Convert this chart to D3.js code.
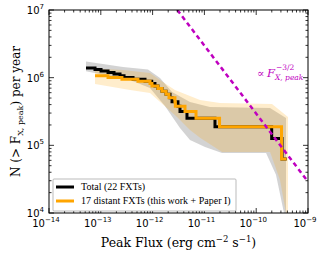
<!DOCTYPE html>
<html>
<head>
<meta charset="utf-8">
<script src="https://cdn.jsdelivr.net/npm/d3@7"></script>
<style>
  body { margin: 0; background: #fff; }
  svg { display: block; }
</style>
</head>
<body>
<svg width="325" height="260"></svg>
<script>
// step edges (peak flux, erg/cm2/s) and cumulative rate levels (per year)
const totalEdges = [5.18e-14, 7.73e-14, 1.01e-13, 1.38e-13, 1.80e-13, 2.35e-13, 2.81e-13, 4.19e-13,
  7.13e-13, 9.62e-13, 1.11e-12, 1.27e-12, 1.52e-12, 1.82e-12, 2.17e-12, 2.37e-12, 3.09e-12,
  3.38e-12, 4.61e-12, 1.60e-11, 1.99e-10, 3.15e-10, 3.88e-10];
const totalLevels = [1.386e6, 1.323e6, 1.26e6, 1.197e6, 1.134e6, 1.071e6, 1.008e6, 9.45e5, 8.82e5,
  8.19e5, 7.56e5, 6.93e5, 6.3e5, 5.67e5, 5.04e5, 4.41e5, 3.78e5, 3.15e5, 2.52e5, 1.89e5, 1.26e5, 6.3e4];

const distEdges = [7.73e-14, 1.38e-13, 2.56e-13, 5.22e-13, 8.91e-13, 9.73e-13, 1.27e-12, 1.52e-12,
  1.82e-12, 2.07e-12, 2.70e-12, 2.75e-12, 4.22e-12, 6.89e-12, 1.96e-11, 3.08e-10, 3.09e-10, 3.86e-10];
const distLevels = [1.071e6, 1.008e6, 9.45e5, 8.82e5, 8.19e5, 7.56e5, 6.93e5, 6.3e5, 5.67e5, 5.04e5,
  4.41e5, 3.78e5, 3.15e5, 2.52e5, 1.89e5, 1.26e5, 6.3e4];

// uncertainty bands [flux, N]
const totalBandUpper = [[5.18e-14, 1.73e6], [2.69e-13, 1.44e6], [8.15e-13, 1.32e6], [1.39e-12, 9.9e5],
  [2.37e-12, 6.15e5], [5.27e-12, 4.38e5], [1.28e-11, 3.69e5], [1.85e-10, 3.56e5], [3.76e-10, 2.54e5],
  [3.76e-10, 1.0e4]];
const totalBandLower = [[3.44e-10, 1.0e4], [2.41e-10, 3.66e4], [1.55e-10, 7.73e4], [2.19e-11, 7.73e4],
  [1.03e-11, 9.47e4], [5.27e-12, 1.20e5], [3.38e-12, 1.81e5], [1.73e-12, 3.82e5], [8.91e-13, 7.05e5],
  [3.67e-13, 9.25e5], [5.18e-14, 1.24e6]];

const distBandUpper = [[7.73e-14, 1.37e6], [2.69e-13, 1.30e6], [8.91e-13, 1.17e6], [1.39e-12, 9.25e5],
  [2.70e-12, 6.58e5], [8.22e-12, 4.69e5], [2.0e-11, 4.23e5], [2.02e-10, 4.08e5], [4.11e-10, 2.63e5],
  [4.11e-10, 1.0e4]];
const distBandLower = [[3.76e-10, 1.0e4], [2.88e-10, 3.08e4], [1.85e-10, 8.0e4], [2.19e-11, 8.0e4],
  [8.22e-12, 1.29e5], [5.27e-12, 1.69e5], [2.96e-12, 2.63e5], [8.91e-13, 5.94e5], [3.67e-13, 6.58e5],
  [7.73e-14, 8.07e5]];

// reference power law line
const powerLaw = [[3.0e-12, 1e7], [1e-9, 2.9e4]];

const xMajor = [-14, -13, -12, -11, -10, -9];
const yMajor = [4, 5, 6, 7];

const svg = d3.select("svg");
const L = 49, R = 308, T = 10, B = 213;

const x = d3.scaleLog().domain([1e-14, 1e-9]).range([L, R]);
const y = d3.scaleLog().domain([1e4, 1e7]).range([B, T]);

svg.append("defs").append("clipPath").attr("id", "clip")
  .append("rect").attr("x", L).attr("y", T).attr("width", R - L).attr("height", B - T);

const plot = svg.append("g").attr("clip-path", "url(#clip)");

const area = d3.line().x(d => x(d[0])).y(d => y(d[1]));

plot.append("path")
  .attr("d", area(totalBandUpper.concat(totalBandLower)) + "Z")
  .attr("fill", "#808080").attr("fill-opacity", 0.35);
plot.append("path")
  .attr("d", area(distBandUpper.concat(distBandLower)) + "Z")
  .attr("fill", "#ffa500").attr("fill-opacity", 0.2);

function stepPts(edges, levels) {
  const pts = levels.map((v, i) => [edges[i], v]);
  pts.push([edges[edges.length - 1], levels[levels.length - 1]]);
  return pts;
}
const step = d3.line().x(d => x(d[0])).y(d => y(d[1])).curve(d3.curveStepAfter);

plot.append("path").attr("d", step(stepPts(totalEdges, totalLevels)))
  .attr("fill", "none").attr("stroke", "#000").attr("stroke-width", 3);
plot.append("path").attr("d", step(stepPts(distEdges, distLevels)))
  .attr("fill", "none").attr("stroke", "#ffa500").attr("stroke-width", 3);

plot.append("path").attr("d", area(powerLaw))
  .attr("fill", "none").attr("stroke", "#bf00bf").attr("stroke-width", 2.5)
  .attr("stroke-dasharray", "4.5,3.5");

// ticks
const xMinor = [], yMinor = [];
xMajor.slice(0, -1).forEach(e => { for (let k = 2; k < 10; k++) xMinor.push(k * Math.pow(10, e)); });
yMajor.slice(0, -1).forEach(e => { for (let k = 2; k < 10; k++) yMinor.push(k * Math.pow(10, e)); });

const ax = svg.append("g").attr("stroke", "#000").attr("stroke-width", 0.8);
xMajor.forEach(e => {
  const px = x(Math.pow(10, e));
  ax.append("line").attr("x1", px).attr("x2", px).attr("y1", B).attr("y2", B - 5);
  ax.append("line").attr("x1", px).attr("x2", px).attr("y1", T).attr("y2", T + 5);
});
xMinor.forEach(v => {
  const px = x(v);
  ax.append("line").attr("x1", px).attr("x2", px).attr("y1", B).attr("y2", B - 2.5);
  ax.append("line").attr("x1", px).attr("x2", px).attr("y1", T).attr("y2", T + 2.5);
});
yMajor.forEach(e => {
  const py = y(Math.pow(10, e));
  ax.append("line").attr("x1", L).attr("x2", L + 5).attr("y1", py).attr("y2", py);
  ax.append("line").attr("x1", R).attr("x2", R - 5).attr("y1", py).attr("y2", py);
});
yMinor.forEach(v => {
  const py = y(v);
  ax.append("line").attr("x1", L).attr("x2", L + 2.5).attr("y1", py).attr("y2", py);
  ax.append("line").attr("x1", R).attr("x2", R - 2.5).attr("y1", py).attr("y2", py);
});

svg.append("rect").attr("x", L).attr("y", T).attr("width", R - L).attr("height", B - T)
  .attr("fill", "none").attr("stroke", "#000").attr("stroke-width", 1);

// tick labels
const tickFont = "DejaVu Sans, sans-serif";
xMajor.forEach(e => {
  const t = svg.append("text").attr("x", x(Math.pow(10, e)) - 3).attr("y", 227)
    .attr("text-anchor", "middle").attr("font-family", tickFont).attr("font-size", 10);
  t.append("tspan").text("10");
  t.append("tspan").attr("dy", -5).attr("font-size", 7).text(String(e).replace("-", "\u2212"));
});
yMajor.forEach(e => {
  const t = svg.append("text").attr("x", 44).attr("y", y(Math.pow(10, e)) + 4)
    .attr("text-anchor", "end").attr("font-family", tickFont).attr("font-size", 10);
  t.append("tspan").text("10");
  t.append("tspan").attr("dy", -5).attr("font-size", 7).text(String(e));
});

// axis labels
const serif = "DejaVu Serif, serif";
const xl = svg.append("text").attr("x", (L + R) / 2).attr("y", 247).attr("text-anchor", "middle")
  .attr("font-family", serif).attr("font-size", 12.5);
xl.append("tspan").text("Peak Flux (erg cm");
xl.append("tspan").attr("dy", -5).attr("font-size", 8.5).text("\u22122");
xl.append("tspan").attr("dy", 5).text(" s");
xl.append("tspan").attr("dy", -5).attr("font-size", 8.5).text("\u22121");
xl.append("tspan").attr("dy", 5).text(")");

const yl = svg.append("text").attr("transform", `translate(20,${(T + B) / 2}) rotate(-90)`)
  .attr("text-anchor", "middle").attr("font-family", serif).attr("font-size", 12);
yl.append("tspan").text("N (> F");
yl.append("tspan").attr("dy", 3).attr("font-size", 8).text("X, peak");
yl.append("tspan").attr("dy", -3).text(") per year");

// power law annotation
const ann = svg.append("g").attr("fill", "#bf00bf").attr("font-family", serif);
ann.append("text").attr("x", 257).attr("y", 77).attr("font-size", 11).text("\u221D");
ann.append("text").attr("x", 267).attr("y", 77).attr("font-size", 11.5).attr("font-style", "italic").text("F");
ann.append("text").attr("x", 276).attr("y", 70).attr("font-size", 7.5).text("\u22123/2");
ann.append("text").attr("x", 275).attr("y", 80).attr("font-size", 7.5).attr("font-style", "italic").text("X, peak");

// legend
const lg = svg.append("g");
lg.append("rect").attr("x", 53).attr("y", 179).attr("width", 183).attr("height", 32)
  .attr("fill", "#fff").attr("stroke", "#aaa").attr("stroke-width", 0.8).attr("rx", 1);
const legendItems = [["Total (22 FXTs)", "#000"], ["17 distant FXTs (this work + Paper I)", "#ffa500"]];
legendItems.forEach((d, i) => {
  const yy = 187 + i * 14;
  lg.append("line").attr("x1", 56).attr("x2", 74).attr("y1", yy).attr("y2", yy)
    .attr("stroke", d[1]).attr("stroke-width", 3);
  lg.append("text").attr("x", 81).attr("y", yy + 3).attr("font-family", "Liberation Serif, serif")
    .attr("font-size", 10).text(d[0]);
});
</script>
</body>
</html>
